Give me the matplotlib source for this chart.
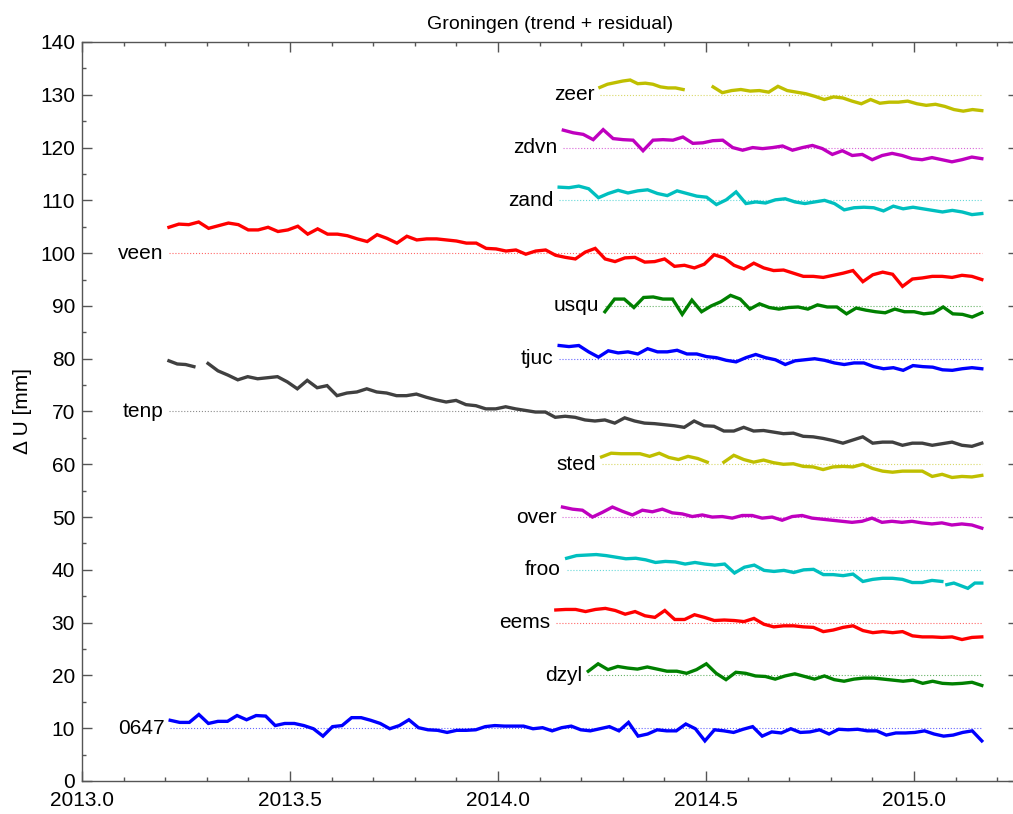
#!/usr/bin/env python3
# Groningen GPS stations: vertical displacement (trend + residual), stacked with offsets

import numpy as np
import matplotlib
matplotlib.use('Agg')
import matplotlib.pyplot as plt
from matplotlib.ticker import MultipleLocator, FormatStrFormatter

plt.rcParams['font.family'] = ['Liberation Sans', 'DejaVu Sans']

# Station data: segments as (start year, end year) + values [mm]
zeer_t = [(2014.245, 2014.445), (2014.517, 2015.163)]
zeer_v = [[131.4, 132.0, 132.3, 132.6, 132.8, 132.1, 132.2, 132.0, 131.5, 131.3, 131.3, 131.0],
          [131.5, 130.4, 130.8, 131.0, 130.7, 130.8, 130.5, 131.6, 130.8, 130.5, 130.2, 129.7,
           129.1, 129.6, 129.4, 128.8, 128.3, 129.1, 128.4, 128.6, 128.6, 128.8, 128.3, 128.0,
           128.2, 127.8, 127.2, 126.9, 127.2, 127.0]]

zdvn_t = [(2014.157, 2015.163)]
zdvn_v = [[123.3, 122.8, 122.5, 121.5, 123.4, 121.7, 121.5, 121.4, 119.4, 121.4, 121.5, 121.4,
           122.0, 120.8, 120.9, 121.3, 121.4, 120.0, 119.5, 120.0, 119.8, 120.0, 120.3, 119.5,
           120.0, 120.4, 119.8, 118.7, 119.4, 118.5, 118.7, 117.7, 118.5, 118.9, 118.5, 117.9,
           117.7, 118.1, 117.7, 117.3, 117.7, 118.2, 117.9]]

zand_t = [(2014.147, 2015.163)]
zand_v = [[112.5, 112.4, 112.7, 112.2, 110.5, 111.3, 111.9, 111.4, 111.8, 112.0, 111.3, 110.9,
           111.8, 111.3, 110.8, 110.6, 109.2, 110.1, 111.6, 109.4, 109.7, 109.5, 110.1, 110.3,
           109.7, 109.4, 109.7, 110.0, 109.4, 108.2, 108.6, 108.7, 108.6, 108.0, 108.9, 108.4,
           108.7, 108.4, 108.1, 107.8, 108.1, 107.8, 107.3, 107.5]]

veen_t = [(2013.209, 2015.163)]
veen_v = [[104.9, 105.5, 105.4, 105.9, 104.7, 105.2, 105.7, 105.4, 104.4, 104.4, 104.9, 104.1,
           104.4, 105.1, 103.6, 104.6, 103.6, 103.6, 103.3, 102.7, 102.2, 103.5, 102.8, 101.9,
           103.2, 102.5, 102.7, 102.7, 102.5, 102.3, 101.9, 101.9, 100.9, 100.8, 100.4, 100.6,
           99.8, 100.4, 100.6, 99.6, 99.2, 98.9, 100.2, 100.9, 98.9, 98.4, 99.1, 99.2,
           98.3, 98.4, 98.9, 97.5, 97.7, 97.2, 97.9, 99.7, 99.1, 97.7, 97.0, 98.1,
           97.2, 96.7, 96.8, 96.2, 95.6, 95.6, 95.4, 95.8, 96.2, 96.7, 94.6, 95.9,
           96.4, 96.0, 93.7, 95.1, 95.3, 95.6, 95.6, 95.4, 95.8, 95.6, 95.0]]

usqu_t = [(2014.257, 2015.163)]
usqu_v = [[88.9, 91.3, 91.3, 89.7, 91.6, 91.7, 91.3, 91.3, 88.4, 91.1, 88.9, 90.0,
           90.8, 92.0, 91.3, 89.4, 90.4, 89.7, 89.4, 89.7, 89.8, 89.4, 90.2, 89.8,
           89.8, 88.5, 89.6, 89.2, 88.9, 88.7, 89.4, 88.9, 88.9, 88.5, 88.7, 89.8,
           88.5, 88.4, 87.9, 88.7]]

tjuc_t = [(2014.147, 2015.163)]
tjuc_v = [[82.5, 82.3, 82.5, 81.3, 80.3, 81.5, 81.1, 81.3, 80.9, 81.9, 81.3, 81.3,
           81.6, 80.9, 80.9, 80.4, 80.2, 79.7, 79.4, 80.2, 80.8, 80.2, 79.8, 78.9,
           79.6, 79.8, 80.0, 79.7, 79.2, 78.9, 79.2, 79.2, 78.5, 78.1, 78.3, 77.8,
           78.7, 78.5, 78.4, 77.9, 77.8, 78.1, 78.3, 78.1]]

tenp_t = [(2013.209, 2013.269), (2013.303, 2015.163)]
tenp_v = [[79.6, 79.0, 78.9, 78.5],
          [79.1, 77.7, 76.9, 76.0, 76.6, 76.2, 76.4, 76.6, 75.6, 74.3, 75.9, 74.5,
           74.9, 73.0, 73.5, 73.7, 74.3, 73.7, 73.5, 73.0, 73.0, 73.3, 72.7, 72.2,
           71.8, 72.1, 71.3, 71.1, 70.5, 70.5, 70.9, 70.5, 70.2, 69.9, 69.9, 68.9,
           69.1, 68.9, 68.4, 68.2, 68.4, 67.8, 68.8, 68.2, 67.8, 67.7, 67.5, 67.3,
           67.0, 68.2, 67.3, 67.2, 66.3, 66.3, 67.0, 66.3, 66.4, 66.1, 65.8, 65.9,
           65.3, 65.2, 64.9, 64.5, 64.0, 64.6, 65.2, 64.0, 64.2, 64.2, 63.6, 64.0,
           64.0, 63.6, 63.9, 64.2, 63.6, 63.4, 64.0]]

sted_t = [(2014.249, 2014.503), (2014.543, 2015.163)]
sted_v = [[61.4, 62.1, 62.0, 62.0, 62.0, 61.5, 62.1, 61.3, 60.9, 61.5, 61.1, 60.4],
          [60.4, 61.7, 60.9, 60.4, 60.8, 60.3, 60.0, 60.1, 59.6, 59.5, 59.0, 59.5,
           59.6, 59.5, 60.0, 59.2, 58.7, 58.5, 58.7, 58.7, 58.7, 57.7, 58.1, 57.5,
           57.7, 57.6, 57.9]]

over_t = [(2014.155, 2015.163)]
over_v = [[51.9, 51.5, 51.3, 50.0, 50.9, 51.9, 51.1, 50.4, 51.3, 51.0, 51.5, 50.8,
           50.6, 50.1, 50.4, 50.0, 50.1, 49.8, 50.3, 50.3, 49.8, 50.0, 49.4, 50.1,
           50.3, 49.8, 49.6, 49.4, 49.2, 49.0, 49.2, 49.8, 49.0, 49.2, 49.0, 49.2,
           48.9, 48.7, 48.9, 48.5, 48.7, 48.5, 47.9]]

froo_t = [(2014.165, 2015.067), (2015.079, 2015.163)]
froo_v = [[42.2, 42.7, 42.8, 42.9, 42.7, 42.4, 42.1, 42.2, 41.9, 41.4, 41.6, 41.5,
           41.1, 41.4, 41.1, 40.9, 41.1, 39.4, 40.5, 40.9, 39.9, 39.7, 39.9, 39.5,
           40.0, 40.1, 39.1, 39.1, 38.9, 39.2, 37.8, 38.2, 38.4, 38.4, 38.2, 37.6,
           37.6, 38.0, 37.8],
          [37.2, 37.5, 37.0, 36.5, 37.5, 37.5]]

eems_t = [(2014.139, 2015.163)]
eems_v = [[32.4, 32.5, 32.5, 32.1, 32.5, 32.7, 32.3, 31.6, 32.1, 31.3, 31.0, 32.3,
           30.6, 30.6, 31.5, 31.0, 30.4, 30.5, 30.4, 30.2, 30.8, 29.7, 29.2, 29.4,
           29.4, 29.2, 29.1, 28.3, 28.6, 29.1, 29.4, 28.5, 28.1, 28.3, 28.1, 28.3,
           27.5, 27.3, 27.3, 27.2, 27.3, 26.8, 27.2, 27.3]]

dzyl_t = [(2014.217, 2015.163)]
dzyl_v = [[20.8, 22.2, 21.1, 21.7, 21.4, 21.2, 21.6, 21.2, 20.8, 20.8, 20.4, 21.1,
           22.2, 20.4, 19.2, 20.6, 20.4, 19.9, 19.8, 19.3, 19.9, 20.3, 19.8, 19.3,
           19.9, 19.2, 18.9, 19.3, 19.5, 19.5, 19.3, 19.1, 18.9, 19.1, 18.5, 18.9,
           18.5, 18.4, 18.5, 18.7, 18.1]]

s0647_t = [(2013.212, 2015.163)]
s0647_v = [[11.5, 11.1, 11.1, 12.6, 10.9, 11.3, 11.3, 12.4, 11.6, 12.4, 12.3, 10.5,
            10.9, 10.9, 10.5, 9.9, 8.5, 10.3, 10.5, 12.0, 12.0, 11.5, 10.9, 9.9,
            10.5, 11.6, 10.1, 9.7, 9.6, 9.2, 9.6, 9.6, 9.7, 10.3, 10.5, 10.4,
            10.4, 10.4, 9.9, 10.1, 9.5, 10.1, 10.4, 9.7, 9.5, 9.9, 10.3, 9.5,
            11.1, 8.5, 8.9, 9.7, 9.5, 9.5, 10.8, 9.9, 7.6, 9.7, 9.5, 9.2,
            9.8, 10.3, 8.5, 9.3, 9.1, 9.9, 9.2, 9.3, 9.7, 8.9, 9.8, 9.7,
            9.8, 9.5, 9.5, 8.7, 9.1, 9.1, 9.2, 9.5, 8.9, 8.5, 8.7, 9.2,
            9.5, 7.6]]

names   = ['zeer', 'zdvn', 'zand', 'veen', 'usqu', 'tjuc', 'tenp', 'sted', 'over', 'froo', 'eems', 'dzyl', '0647']
offsets = [130, 120, 110, 100, 90, 80, 70, 60, 50, 40, 30, 20, 10]
times   = [zeer_t, zdvn_t, zand_t, veen_t, usqu_t, tjuc_t, tenp_t, sted_t, over_t, froo_t, eems_t, dzyl_t, s0647_t]
values  = [zeer_v, zdvn_v, zand_v, veen_v, usqu_v, tjuc_v, tenp_v, sted_v, over_v, froo_v, eems_v, dzyl_v, s0647_v]


def main():
    # classic matplotlib colour cycle: y, m, c, r, g, b, darkgray
    cols = [(0.75, 0.75, 0), (0.75, 0, 0.75), (0, 0.75, 0.75), 'r', (0, 0.5, 0),
            'b', (0.25, 0.25, 0.25)]

    fig = plt.figure(figsize=(10.13, 8.14), dpi=100)
    ax = fig.add_axes([82/1013, 33/814, 936/1013, 739/814])

    for i, name in enumerate(names):
        col = cols[i % len(cols)]
        off = offsets[i]
        segs = times[i]
        t_start = segs[0][0]
        t_end = segs[-1][1]
        # reference line at the offset
        ax.plot([t_start, t_end], [off, off], ls=':', lw=0.8, color=col, alpha=0.6)
        for (t0, t1), v in zip(segs, values[i]):
            t = np.linspace(t0, t1, len(v))
            ax.plot(t, v, '-', lw=2.4, color=col, solid_joinstyle='miter')
        ax.annotate(name, xy=(t_start, off), xytext=(-4, 0), textcoords='offset points',
                    ha='right', va='center', fontsize=15)

    ax.set_xlim(2013.0, 2015.25)
    ax.set_ylim(0, 140)
    ax.xaxis.set_major_locator(MultipleLocator(0.5))
    ax.xaxis.set_minor_locator(MultipleLocator(0.1))
    ax.xaxis.set_major_formatter(FormatStrFormatter('%.1f'))
    ax.yaxis.set_major_locator(MultipleLocator(10))
    ax.yaxis.set_minor_locator(MultipleLocator(5))
    ax.tick_params(which='both', direction='in', top=True, right=True,
                   color='#555555', labelsize=15)
    ax.tick_params(axis='y', pad=5)
    ax.tick_params(axis='x', pad=7.5)
    ax.tick_params(which='major', length=7, width=1)
    ax.tick_params(which='minor', length=3, width=1)
    for sp in ax.spines.values():
        sp.set_color('#555555')
        sp.set_linewidth(1.0)

    ax.set_ylabel('\u0394 U [mm]', fontsize=15, labelpad=6)
    ax.set_title('Groningen (trend + residual)', fontsize=14, pad=9)

    fig.savefig('out.png', dpi=100)
    plt.close('all')


if __name__ == '__main__':
    main()
